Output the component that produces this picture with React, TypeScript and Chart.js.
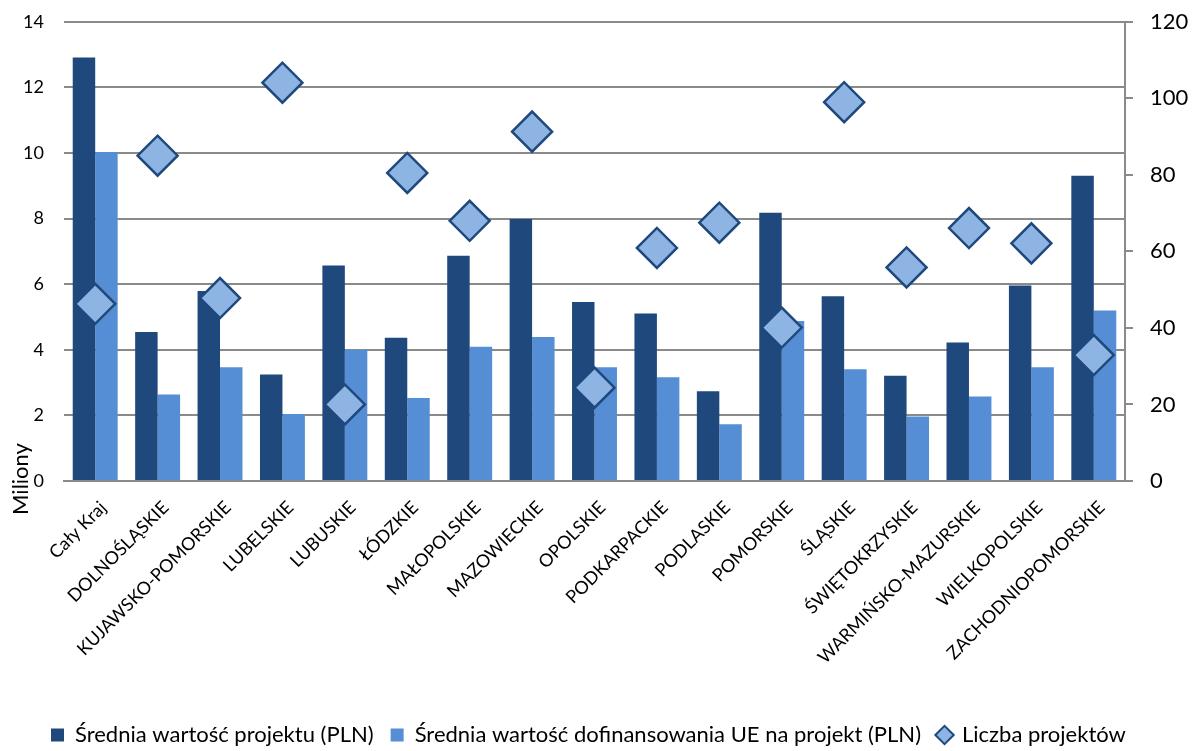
import React, { useEffect, useRef } from "react";
import { Chart, registerables } from "chart.js";

Chart.register(...registerables);

const categories = [
  "Cały Kraj",
  "DOLNOŚLĄSKIE",
  "KUJAWSKO-POMORSKIE",
  "LUBELSKIE",
  "LUBUSKIE",
  "ŁÓDZKIE",
  "MAŁOPOLSKIE",
  "MAZOWIECKIE",
  "OPOLSKIE",
  "PODKARPACKIE",
  "PODLASKIE",
  "POMORSKIE",
  "ŚLĄSKIE",
  "ŚWIĘTOKRZYSKIE",
  "WARMIŃSKO-MAZURSKIE",
  "WIELKOPOLSKIE",
  "ZACHODNIOPOMORSKIE",
];

const avgProjectValue = [12.91, 4.54, 5.79, 3.25, 6.57, 4.37, 6.87, 7.99, 5.46, 5.11, 2.74, 8.18, 5.63, 3.21, 4.22, 5.96, 9.31];
const avgEuFunding = [10.03, 2.64, 3.47, 2.04, 4.0, 2.53, 4.09, 4.39, 3.47, 3.16, 1.73, 4.88, 3.41, 1.97, 2.58, 3.47, 5.2];
const projectCount = [46.3, 85.0, 47.8, 104.1, 20.0, 80.5, 68.0, 91.3, 24.4, 60.9, 67.5, 40.1, 99.0, 55.8, 66.1, 62.1, 32.9];

const seriesLabels = [
  "Średnia wartość projektu (PLN)",
  "Średnia wartość dofinansowania UE na projekt (PLN)",
  "Liczba projektów",
];

const leftAxisTitle = "Miliony";

const FONT = "Lato, 'Open Sans', sans-serif";
const GRID = "#8a8a8a";
const SHIFT = 9;

const axisTitlePlugin = {
  id: "axisTitlePlugin",
  beforeDraw(chart: any) {
    if (chart.legend) {
      chart.legend.left = 34;
    }
  },
  afterDraw(chart: any) {
    const { ctx, chartArea } = chart;
    ctx.save();
    ctx.translate(21, chartArea.bottom - 2);
    ctx.rotate(-Math.PI / 2);
    ctx.font = `22px ${FONT}`;
    ctx.fillStyle = "#000";
    ctx.textAlign = "center";
    ctx.textBaseline = "middle";
    ctx.fillText(leftAxisTitle, 0, 0);
    ctx.restore();
  },
};

export default function App() {
  const ref = useRef<HTMLCanvasElement | null>(null);

  useEffect(() => {
    if (!ref.current) return;
    const chart = new Chart(ref.current, {
      type: "bar",
      data: {
        labels: categories,
        datasets: [
          {
            type: "bar",
            label: seriesLabels[0],
            data: avgProjectValue,
            backgroundColor: "#1F497D",
            borderWidth: 0,
            yAxisID: "y",
            order: 2,
            categoryPercentage: 0.72,
            barPercentage: 1.0,
          },
          {
            type: "bar",
            label: seriesLabels[1],
            data: avgEuFunding,
            backgroundColor: "#558ED5",
            borderWidth: 0,
            yAxisID: "y",
            order: 2,
            categoryPercentage: 0.72,
            barPercentage: 1.0,
          },
          {
            type: "line",
            label: seriesLabels[2],
            data: projectCount,
            showLine: false,
            pointStyle: "rectRot",
            pointRadius: 20,
            pointHoverRadius: 20,
            backgroundColor: "#8EB4E3",
            borderColor: "#1F497D",
            borderWidth: 2.5,
            pointBorderWidth: 2.5,
            yAxisID: "y1",
            order: 0,
          },
        ],
      },
      plugins: [axisTitlePlugin],
      options: {
        animation: false,
        responsive: true,
        maintainAspectRatio: false,
        layout: { padding: { top: -4, left: 0, right: 0, bottom: -5 } },
        plugins: {
          tooltip: { enabled: false },
          legend: {
            position: "bottom",
            align: "start",
            labels: {
              usePointStyle: true,
              boxWidth: 13,
              boxHeight: 13,
              padding: 17,
              color: "#000",
              font: { family: FONT, size: 22 },
              generateLabels: (c: any) => {
                const items = (Chart as any).defaults.plugins.legend.labels.generateLabels(c);
                items.sort((a: any, b: any) => a.datasetIndex - b.datasetIndex);
                items.forEach((it: any) => {
                  it.pointStyle = it.datasetIndex === 2 ? "rectRot" : "rect";
                  if (it.datasetIndex < 2) it.lineWidth = 0;
                  else it.lineWidth = 2;
                });
                return items;
              },
            },
          },
        },
        scales: {
          x: {
            grid: { display: false, drawTicks: false },
            border: { display: true, color: GRID, width: 2 },
            ticks: {
              color: "#000",
              font: { family: FONT, size: 18 },
              maxRotation: 45,
              minRotation: 45,
              autoSkip: false,
              padding: 16,
              labelOffset: 8,
            },
            afterFit: (s: any) => {
              s.height = 226;
            },
          },
          y: {
            position: "left",
            min: 0,
            max: 14,
            ticks: {
              stepSize: 2,
              color: "#000",
              font: { family: FONT, size: 18 },
              padding: 20,
            },
            grid: { color: GRID, lineWidth: 2, drawTicks: false },
            border: { display: false },
            afterFit: (s: any) => {
              s.width = 64;
            },
          },
          y1: {
            position: "right",
            min: 0,
            max: 120,
            ticks: {
              stepSize: 20,
              color: "#000",
              font: { family: FONT, size: 22 },
              padding: 17,
            },
            grid: { drawOnChartArea: false, drawTicks: true, tickLength: 8, color: GRID, lineWidth: 2 },
            border: { display: true, color: GRID, width: 2 },
            afterFit: (s: any) => {
              s.width = 67;
            },
          },
        },
      },
    });
    return () => chart.destroy();
  }, []);

  return (
    <div style={{ position: "absolute", left: 0, top: 0, width: 1192, height: 751, overflow: "hidden", background: "#fff" }}>
      <div style={{ position: "absolute", left: 0, top: -SHIFT, width: 1192, height: 751 + SHIFT }}>
        <canvas ref={ref} />
      </div>
    </div>
  );
}
